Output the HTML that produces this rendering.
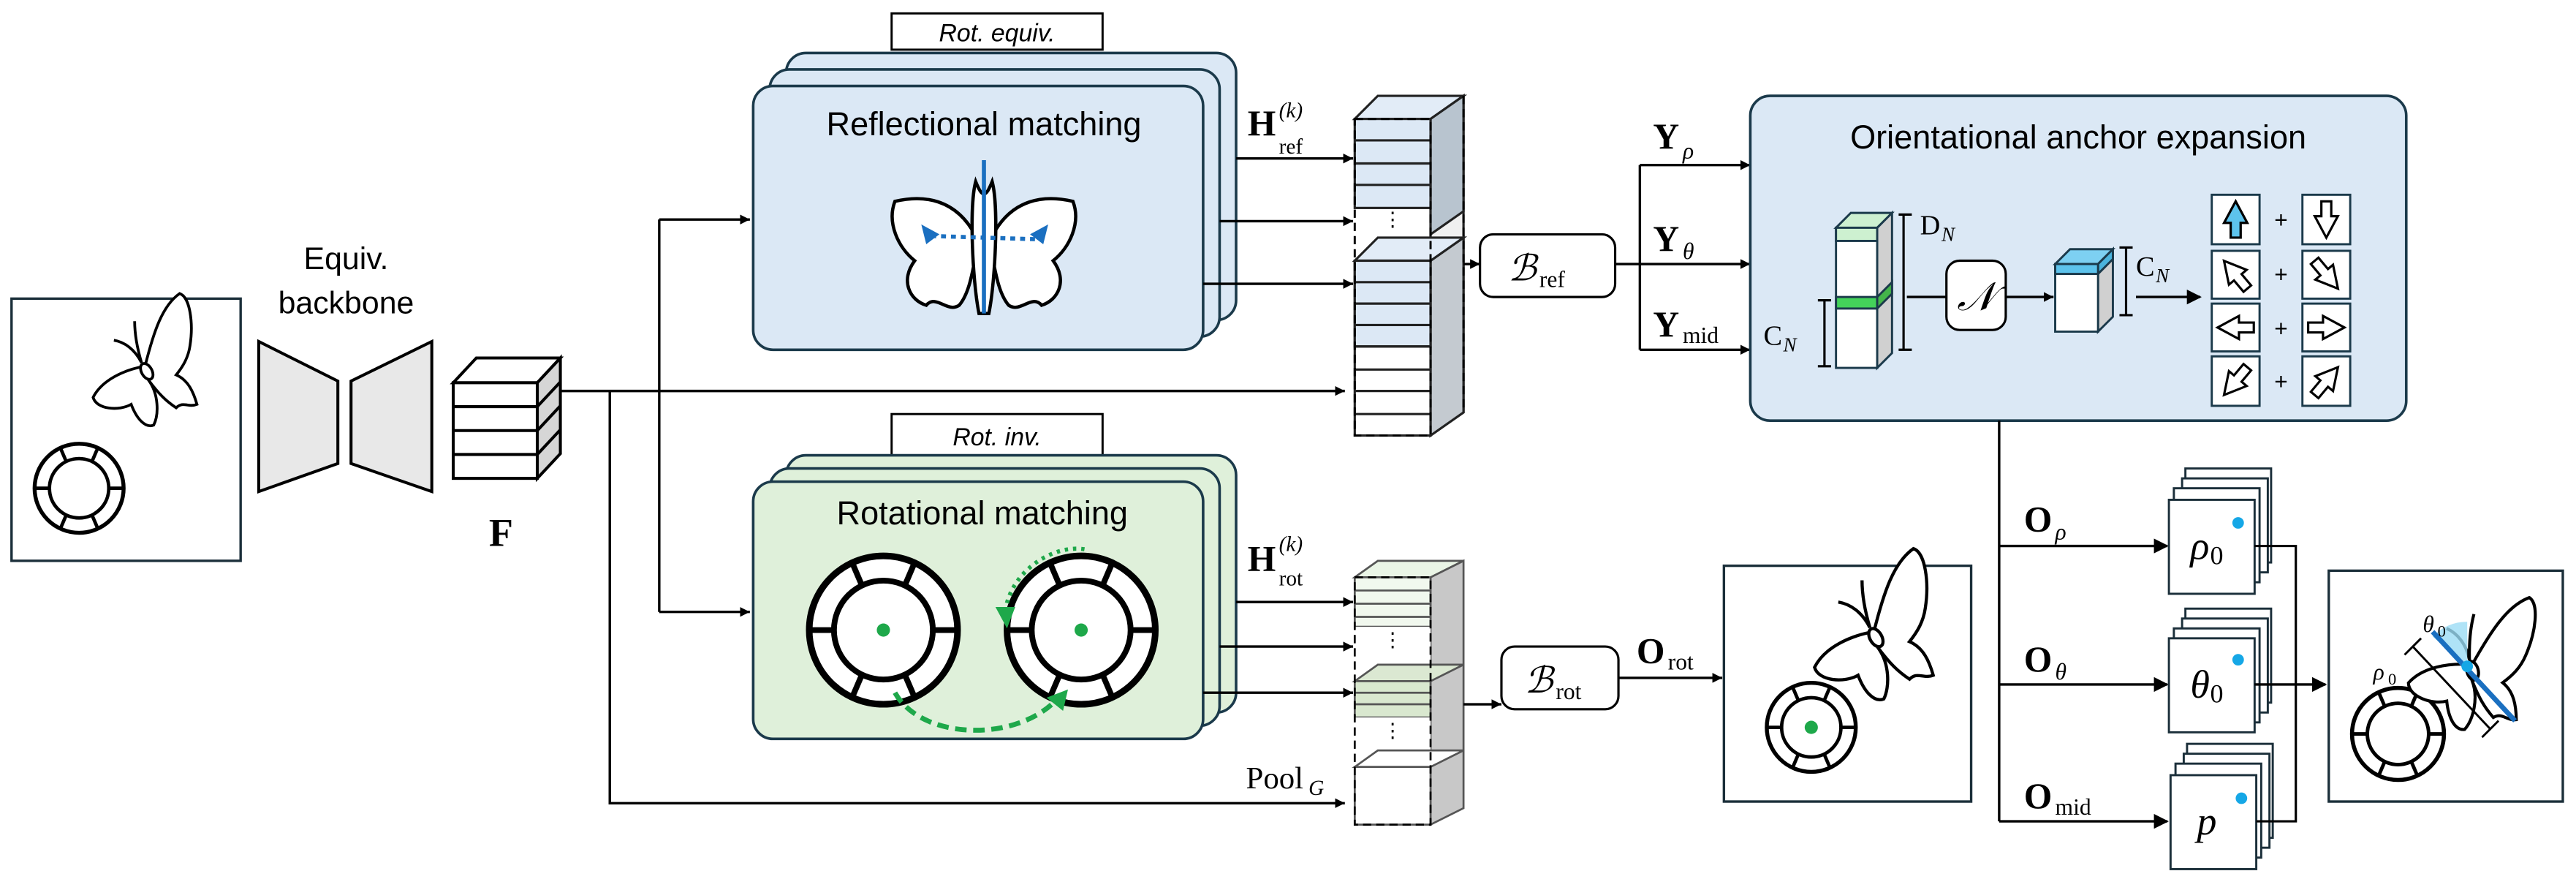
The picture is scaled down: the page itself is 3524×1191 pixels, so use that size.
<!DOCTYPE html>
<html><head><meta charset="utf-8"><style>
html,body{margin:0;padding:0;background:#fff;}
svg{display:block}
.t{font-family:"Liberation Sans",sans-serif}
.m{font-family:"Liberation Serif",serif}
</style></head><body>
<svg width="3524" height="1191" viewBox="0 0 1563 528" xmlns="http://www.w3.org/2000/svg">
<defs>
<marker id="a" viewBox="0 0 10 10" refX="10" refY="5" markerWidth="6" markerHeight="6" orient="auto" markerUnits="userSpaceOnUse"><path d="M0,0 L10,5 L0,10z" fill="#000"/></marker>
<marker id="ab" viewBox="0 0 10 10" refX="9" refY="5" markerWidth="9" markerHeight="9" orient="auto" markerUnits="userSpaceOnUse"><path d="M0,0 L10,5 L0,10z" fill="#000"/></marker>
<g id="ring"><circle r="45" fill="#fff" stroke="#000" stroke-width="4"/><circle r="30" fill="#fff" stroke="#000" stroke-width="3.5"/>
<g stroke="#000" stroke-width="3.5"><line x1="30" y1="0" x2="45" y2="0"/><line x1="-30" y1="0" x2="-45" y2="0"/><line x1="13" y1="27" x2="19" y2="41"/><line x1="-13" y1="27" x2="-19" y2="41"/><line x1="13" y1="-27" x2="19" y2="-41"/><line x1="-13" y1="-27" x2="-19" y2="-41"/></g></g>
<g id="bfly" fill="#fff" stroke="#000" stroke-width="1.6">
<path d="M0,0 C5,-20 10,-35 20,-42 C26,-40 28,-25 26,-12 C25,-5 22,0 18,5 C25,8 28,15 30,22 C25,24 22,20 18,24 C12,20 8,16 2,8z"/>
<path d="M0,0 C-12,2 -25,8 -30,18 C-28,25 -15,26 -8,22 C-5,30 0,36 5,34 C8,28 8,16 2,8z"/>
<ellipse cx="1" cy="3" rx="3" ry="5" transform="rotate(-30 1 3)"/>
<path d="M-2,-2 C-6,-10 -12,-14 -18,-15 M-2,-2 C-5,-12 -6,-20 -6,-26" fill="none"/>
</g>
<path id="arr" d="M0,-11 L-7,2 L-3,2 L-3,11 L3,11 L3,2 L7,2z" stroke="#000" stroke-width="1.4" fill="#fff"/>
</defs>

<!-- input box -->
<rect x="7" y="181" width="139" height="159" fill="#fff" stroke="#1b2f3a" stroke-width="1.5"/>
<use href="#bfly" transform="translate(88,222) scale(1.05)"/>
<use href="#ring" transform="translate(48,296) scale(0.6)"/>

<!-- backbone -->
<text class="t" x="210" y="163" font-size="19" text-anchor="middle">Equiv.</text>
<text class="t" x="210" y="190" font-size="19" text-anchor="middle">backbone</text>
<path d="M157,207 L205,231 L205,281 L157,298z" fill="#e8e8e8" stroke="#000" stroke-width="1.8"/>
<path d="M213,231 L262,207 L262,298 L213,281z" fill="#e8e8e8" stroke="#000" stroke-width="1.8"/>
<!-- F -->
<g stroke="#000" stroke-width="1.8">
<path d="M275,232 L289,217 L340,217 L326,232z" fill="#fff"/>
<path d="M326,232 L340,217 L340,275 L326,290z" fill="#d6d6d6"/>
<rect x="275" y="232" width="51" height="58" fill="#fff"/>
<line x1="275" y1="246.5" x2="326" y2="246.5"/><line x1="275" y1="261" x2="326" y2="261"/><line x1="275" y1="275.5" x2="326" y2="275.5"/>
<line x1="326" y1="246.5" x2="340" y2="231.5"/><line x1="326" y1="261" x2="340" y2="246"/><line x1="326" y1="275.5" x2="340" y2="260.5"/>
</g>
<text class="m" x="304" y="331" font-size="24" font-weight="bold" text-anchor="middle">F</text>

<!-- connectors from F -->
<g stroke="#000" stroke-width="1.5" fill="none">
<line x1="340" y1="237" x2="816" y2="237" marker-end="url(#a)"/>
<polyline points="370,237 370,487 816,487" marker-end="url(#a)"/>
<line x1="400" y1="133" x2="400" y2="371"/>
<line x1="400" y1="133" x2="455" y2="133" marker-end="url(#a)"/>
<line x1="400" y1="371" x2="455" y2="371" marker-end="url(#a)"/>
</g>

<!-- reflectional cards -->
<rect x="541" y="8" width="128" height="22" fill="#fff" stroke="#000" stroke-width="1.3"/>
<text class="t" x="605" y="25" font-size="15" font-style="italic" text-anchor="middle">Rot. equiv.</text>
<g fill="#dbe8f5" stroke="#1b3a4b" stroke-width="1.6">
<rect x="477" y="32" width="273" height="162" rx="12"/>
<rect x="467" y="42" width="273" height="162" rx="12"/>
<rect x="457" y="52" width="273" height="160" rx="12"/>
</g>
<text class="t" x="597" y="82" font-size="20" text-anchor="middle">Reflectional matching</text>
<g fill="#fff" stroke="#000" stroke-width="2">
<path d="M592,143 C580,120 560,118 543,122 C538,135 545,150 555,158 C546,170 552,182 562,185 C568,178 575,190 582,185 C588,178 590,165 592,155z"/>
<path d="M602,143 C614,120 634,118 651,122 C656,135 649,150 639,158 C648,170 642,182 632,185 C626,178 619,190 612,185 C606,178 604,165 602,155z"/>
<path d="M592,110 C588,125 590,170 594,190 L600,190 C604,170 606,125 602,110 C598,120 596,120 592,110z"/>
</g>
<line x1="597" y1="97" x2="597" y2="190" stroke="#1a6fc0" stroke-width="2.5"/>
<line x1="565" y1="143" x2="630" y2="145" stroke="#1a6fc0" stroke-width="2.5" stroke-dasharray="3,3"/>
<path d="M559,136 L570,142 L562,148z M636,136 L625,142 L633,148z" fill="#1a6fc0"/>

<g stroke="#000" stroke-width="1.5">
<line x1="750" y1="96" x2="821" y2="96" marker-end="url(#a)"/>
<line x1="740" y1="134" x2="821" y2="134" marker-end="url(#a)"/>
<line x1="730" y1="172" x2="821" y2="172" marker-end="url(#a)"/>
</g>
<text class="m" x="757" y="82" font-size="22" font-weight="bold">H</text>
<text class="m" x="776" y="71" font-size="13" font-style="italic">(k)</text>
<text class="m" x="776" y="93" font-size="13">ref</text>

<!-- ref column -->
<g stroke="#222" stroke-width="1.4">
<path d="M822,72 L836,58 L888,58 L868,72z" fill="#e2ecf7"/>
<path d="M868,72 L888,58 L888,250 L868,264z" fill="#f0f0f0"/>
<path d="M868,72 L888,58 L888,128 L868,142z" fill="#b8c4cf"/>
<path d="M868,158 L888,144 L888,250 L868,264z" fill="#c4cad0"/>
<rect x="822" y="72" width="46" height="54" fill="#dce8f5"/>
<line x1="822" y1="85" x2="868" y2="85"/><line x1="822" y1="99" x2="868" y2="99"/><line x1="822" y1="112" x2="868" y2="112"/>
<path d="M822,158 L836,144 L888,144 L868,158z" fill="#e2ecf7"/>
<rect x="822" y="158" width="46" height="106" fill="#fff"/>
<rect x="822" y="158" width="46" height="52" fill="#dce8f5"/>
<line x1="822" y1="171" x2="868" y2="171"/><line x1="822" y1="184" x2="868" y2="184"/><line x1="822" y1="197" x2="868" y2="197"/><line x1="822" y1="210" x2="868" y2="210"/><line x1="822" y1="224" x2="868" y2="224"/><line x1="822" y1="237" x2="868" y2="237"/><line x1="822" y1="251" x2="868" y2="251"/>
</g>
<rect x="822" y="72" width="46" height="192" fill="none" stroke="#000" stroke-width="1.3" stroke-dasharray="5,3"/>
<line x1="888" y1="58" x2="888" y2="250" stroke="#000" stroke-width="1.3" stroke-dasharray="5,3"/>
<text x="845" y="137" font-size="12" text-anchor="middle">⋮</text>

<line x1="888" y1="160" x2="898" y2="160" stroke="#000" stroke-width="1.5" marker-end="url(#a)"/>
<rect x="898" y="142" width="82" height="38" rx="8" fill="#fff" stroke="#000" stroke-width="1.4"/>
<text class="m" x="915" y="170" font-size="22" font-style="italic">ℬ</text><text class="m" x="934" y="174" font-size="14">ref</text>

<g stroke="#000" stroke-width="1.5" fill="none">
<line x1="980" y1="160" x2="995" y2="160"/>
<line x1="995" y1="100" x2="995" y2="212"/>
<line x1="995" y1="100" x2="1062" y2="100" marker-end="url(#a)"/>
<line x1="995" y1="160" x2="1062" y2="160" marker-end="url(#a)"/>
<line x1="995" y1="212" x2="1062" y2="212" marker-end="url(#a)"/>
</g>
<text class="m" x="1003" y="90" font-size="22" font-weight="bold">Y</text><text class="m" x="1021" y="96" font-size="14" font-style="italic">ρ</text>
<text class="m" x="1003" y="152" font-size="22" font-weight="bold">Y</text><text class="m" x="1021" y="157" font-size="14" font-style="italic">θ</text>
<text class="m" x="1003" y="204" font-size="22" font-weight="bold">Y</text><text class="m" x="1021" y="208" font-size="14">mid</text>

<!-- orientational box -->
<rect x="1062" y="58" width="398" height="197" rx="12" fill="#dbe8f5" stroke="#1b3a4b" stroke-width="1.6"/>
<text class="t" x="1261" y="90" font-size="20" text-anchor="middle">Orientational anchor expansion</text>
<g stroke="#1b3a4b" stroke-width="1.3">
<path d="M1114,138 L1123,129 L1148,129 L1139,138z" fill="#cdf0d0"/>
<path d="M1139,138 L1148,129 L1148,214 L1139,223z" fill="#d0d0d0"/>
<rect x="1114" y="138" width="25" height="85" fill="#fff"/>
<rect x="1114" y="138" width="25" height="8" fill="#cdf0d0"/>
<rect x="1114" y="180" width="25" height="7" fill="#44d35a"/>
<path d="M1139,180 L1148,171 L1148,178 L1139,187z" fill="#44b54a"/>
</g>
<g stroke="#000" stroke-width="1.4" fill="none">
<path d="M1152,130 L1160,130 M1155,130 L1155,212 M1152,212 L1160,212"/>
<path d="M1103,182 L1111,182 M1107,182 L1107,222 M1103,222 L1111,222"/>
<path d="M1286,150 L1294,150 M1290,150 L1290,191 M1286,191 L1294,191"/>
</g>
<text class="m" x="1165" y="142" font-size="17">D</text><text class="m" x="1178" y="146" font-size="12" font-style="italic">N</text>
<text class="m" x="1070" y="209" font-size="17">C</text><text class="m" x="1082" y="213" font-size="12" font-style="italic">N</text>
<text class="m" x="1296" y="167" font-size="17">C</text><text class="m" x="1308" y="171" font-size="12" font-style="italic">N</text>
<line x1="1157" y1="180" x2="1181" y2="180" stroke="#000" stroke-width="1.5"/>
<rect x="1181" y="158" width="36" height="42" rx="8" fill="#fff" stroke="#000" stroke-width="1.4"/>
<text class="m" x="1199" y="188" font-size="24" font-style="italic" text-anchor="middle">𝒩</text>
<line x1="1217" y1="180" x2="1246" y2="180" stroke="#000" stroke-width="1.5" marker-end="url(#a)"/>
<g stroke="#1b3a4b" stroke-width="1.3">
<path d="M1247,160 L1256,151 L1282,151 L1273,160z" fill="#7dd0f2"/>
<path d="M1273,160 L1282,151 L1282,192 L1273,201z" fill="#d0d0d0"/>
<path d="M1273,160 L1282,151 L1282,157 L1273,166z" fill="#4bb4dd"/>
<rect x="1247" y="160" width="26" height="41" fill="#fff"/>
<rect x="1247" y="160" width="26" height="6" fill="#5dc3ec"/>
</g>
<line x1="1296" y1="180" x2="1335" y2="180" stroke="#000" stroke-width="1.5" marker-end="url(#ab)"/>
<g fill="#fff" stroke="#1b3a4b" stroke-width="1.3">
<rect x="1342" y="118" width="29" height="30"/><rect x="1397" y="118" width="29" height="30"/>
<rect x="1342" y="152" width="29" height="29"/><rect x="1397" y="152" width="29" height="29"/>
<rect x="1342" y="184" width="29" height="29"/><rect x="1397" y="184" width="29" height="29"/>
<rect x="1342" y="216" width="29" height="30"/><rect x="1397" y="216" width="29" height="30"/>
</g>
<use href="#arr" transform="translate(1356.5,133)" style="fill:#5dc3ec"/>
<g fill="#5dc3ec"><path d="M1356.5,122 L1349.5,135 L1353.5,135 L1353.5,144 L1359.5,144 L1359.5,135 L1363.5,135z" stroke="#000" stroke-width="1.4"/></g>
<use href="#arr" transform="translate(1411.5,133) rotate(180)"/>
<use href="#arr" transform="translate(1356.5,166.5) rotate(-40)"/>
<use href="#arr" transform="translate(1411.5,166.5) rotate(140)"/>
<use href="#arr" transform="translate(1356.5,198.5) rotate(-90)"/>
<use href="#arr" transform="translate(1411.5,198.5) rotate(90)"/>
<use href="#arr" transform="translate(1356.5,231) rotate(220)"/>
<use href="#arr" transform="translate(1411.5,231) rotate(40)"/>
<g class="t" font-size="14" text-anchor="middle"><text x="1384" y="138">+</text><text x="1384" y="171">+</text><text x="1384" y="204">+</text><text x="1384" y="236">+</text></g>

<!-- outputs -->
<g stroke="#000" stroke-width="1.5" fill="none">
<line x1="1213" y1="255" x2="1213" y2="498"/>
<line x1="1213" y1="331" x2="1315" y2="331" marker-end="url(#ab)"/>
<line x1="1213" y1="415" x2="1315" y2="415" marker-end="url(#ab)"/>
<line x1="1213" y1="498" x2="1315" y2="498" marker-end="url(#ab)"/>
</g>
<text class="m" x="1228" y="322" font-size="22" font-weight="bold">O</text><text class="m" x="1247" y="327" font-size="14" font-style="italic">ρ</text>
<text class="m" x="1228" y="407" font-size="22" font-weight="bold">O</text><text class="m" x="1247" y="412" font-size="14" font-style="italic">θ</text>
<text class="m" x="1228" y="490" font-size="22" font-weight="bold">O</text><text class="m" x="1247" y="494" font-size="14">mid</text>
<g fill="#fff" stroke="#1b2f3a" stroke-width="1.3">
<rect x="1326" y="284" width="52" height="57"/><rect x="1324" y="290" width="52" height="57"/><rect x="1319" y="296" width="52" height="57"/><rect x="1316" y="303" width="52" height="57"/>
<rect x="1326" y="369" width="52" height="57"/><rect x="1324" y="375" width="52" height="57"/><rect x="1319" y="381" width="52" height="57"/><rect x="1316" y="387" width="52" height="57"/>
<rect x="1327" y="451" width="52" height="57"/><rect x="1325" y="457" width="52" height="57"/><rect x="1320" y="463" width="52" height="57"/><rect x="1317" y="470" width="52" height="57"/>
</g>
<polyline points="1368,331 1393,331 1393,498 1369,498" fill="none" stroke="#000" stroke-width="1.4"/>
<line x1="1368" y1="415" x2="1411" y2="415" stroke="#000" stroke-width="1.5" marker-end="url(#ab)"/>
<g class="m" font-size="24" font-style="italic"><text x="1329" y="339">ρ</text><text x="1329" y="423">θ</text><text x="1333" y="506">p</text></g>
<g class="m" font-size="16"><text x="1341" y="342">0</text><text x="1341" y="426">0</text></g>
<g fill="#15a7e6"><circle cx="1358" cy="317" r="3.5"/><circle cx="1358" cy="400" r="3.5"/><circle cx="1360" cy="484" r="3.5"/></g>
<rect x="1413" y="346" width="142" height="140" fill="#fff" stroke="#1b2f3a" stroke-width="1.5"/>
<use href="#ring" transform="translate(1455,445) scale(0.62)"/>
<use href="#bfly" transform="translate(1500,403) rotate(15) scale(1.15)"/>
<path d="M1497,404 L1497,377 A28,28 0 0 0 1476,386z" fill="#9bdcf5" opacity="0.8"/>
<line x1="1476" y1="383" x2="1526" y2="437" stroke="#1a6fc0" stroke-width="3"/>
<path d="M1464,392 L1511,442 M1459,397 L1469,387 M1506,447 L1516,437" stroke="#000" stroke-width="1.3"/>
<circle cx="1497" cy="404" r="3.5" fill="#15a7e6"/>
<text class="m" x="1470" y="383" font-size="14" font-style="italic">θ</text><text class="m" x="1479" y="386" font-size="10">0</text>
<text class="m" x="1440" y="412" font-size="14" font-style="italic">ρ</text><text class="m" x="1449" y="415" font-size="10">0</text>

<!-- rotational cards -->
<rect x="541" y="251" width="128" height="25" fill="#fff" stroke="#000" stroke-width="1.3"/>
<text class="t" x="605" y="270" font-size="15" font-style="italic" text-anchor="middle">Rot. inv.</text>
<g fill="#dff0da" stroke="#1b3a4b" stroke-width="1.6">
<rect x="477" y="276" width="273" height="156" rx="12"/>
<rect x="467" y="284" width="273" height="156" rx="12"/>
<rect x="457" y="292" width="273" height="156" rx="12"/>
</g>
<text class="t" x="596" y="318" font-size="20" text-anchor="middle">Rotational matching</text>
<use href="#ring" transform="translate(536,382)"/>
<use href="#ring" transform="translate(656,382)"/>
<circle cx="536" cy="382" r="4" fill="#1ea84a"/><circle cx="656" cy="382" r="4" fill="#1ea84a"/>
<path d="M543,420 C560,450 620,450 643,422" fill="none" stroke="#1ea84a" stroke-width="3" stroke-dasharray="7,4"/>
<path d="M635,423 L648,418 L645,431z" fill="#1ea84a"/>
<path d="M658,333 C640,330 614,345 610,370" fill="none" stroke="#1ea84a" stroke-width="2.5" stroke-dasharray="2,3"/>
<path d="M604,368 L611,381 L616,368z" fill="#1ea84a"/>

<g stroke="#000" stroke-width="1.5">
<line x1="750" y1="365" x2="821" y2="365" marker-end="url(#a)"/>
<line x1="740" y1="392" x2="821" y2="392" marker-end="url(#a)"/>
<line x1="730" y1="420" x2="821" y2="420" marker-end="url(#a)"/>
</g>
<text class="m" x="757" y="346" font-size="22" font-weight="bold">H</text>
<text class="m" x="776" y="334" font-size="13" font-style="italic">(k)</text>
<text class="m" x="776" y="355" font-size="13">rot</text>
<text class="m" x="756" y="478" font-size="19">Pool</text><text class="m" x="794" y="482" font-size="13" font-style="italic">G</text>

<g stroke="#555" stroke-width="1.2">
<path d="M822,350 L836,340 L888,340 L868,350z" fill="#eaf5e6"/>
<path d="M868,350 L888,340 L888,490 L868,500z" fill="#c8c8c8"/>
<rect x="822" y="350" width="46" height="30" fill="#f1f8ee"/>
<line x1="822" y1="358" x2="868" y2="358"/><line x1="822" y1="366" x2="868" y2="366"/><line x1="822" y1="374" x2="868" y2="374"/>
<rect x="822" y="380" width="46" height="24" fill="#fff" stroke="none"/>
<path d="M822,413 L836,403 L888,403 L868,413z" fill="#dbe8d2"/>
<rect x="822" y="413" width="46" height="22" fill="#d9e8cf"/>
<line x1="822" y1="420" x2="868" y2="420"/><line x1="822" y1="427" x2="868" y2="427"/>
<rect x="822" y="435" width="46" height="20" fill="#fff" stroke="none"/>
<path d="M822,465 L836,455 L888,455 L868,465z" fill="#fff"/>
<rect x="822" y="465" width="46" height="35" fill="#fff"/>
</g>
<rect x="822" y="350" width="46" height="150" fill="none" stroke="#000" stroke-width="1.2" stroke-dasharray="5,3"/>
<text x="845" y="392" font-size="12" text-anchor="middle">⋮</text>
<text x="845" y="447" font-size="12" text-anchor="middle">⋮</text>

<line x1="888" y1="427" x2="911" y2="427" stroke="#000" stroke-width="1.5" marker-end="url(#a)"/>
<rect x="911" y="392" width="71" height="38" rx="8" fill="#fff" stroke="#000" stroke-width="1.4"/>
<text class="m" x="925" y="420" font-size="22" font-style="italic">ℬ</text><text class="m" x="944" y="424" font-size="14">rot</text>
<line x1="982" y1="411" x2="1045" y2="411" stroke="#000" stroke-width="1.5" marker-end="url(#a)"/>
<text class="m" x="993" y="402" font-size="22" font-weight="bold">O</text><text class="m" x="1012" y="406" font-size="14">rot</text>
<rect x="1046" y="343" width="150" height="143" fill="#fff" stroke="#1b2f3a" stroke-width="1.5"/>
<use href="#bfly" transform="translate(1137,383) scale(1.2)"/>
<use href="#ring" transform="translate(1099,441) scale(0.6)"/>
<circle cx="1099" cy="441" r="4" fill="#1ea84a"/>
</svg>
</body></html>
